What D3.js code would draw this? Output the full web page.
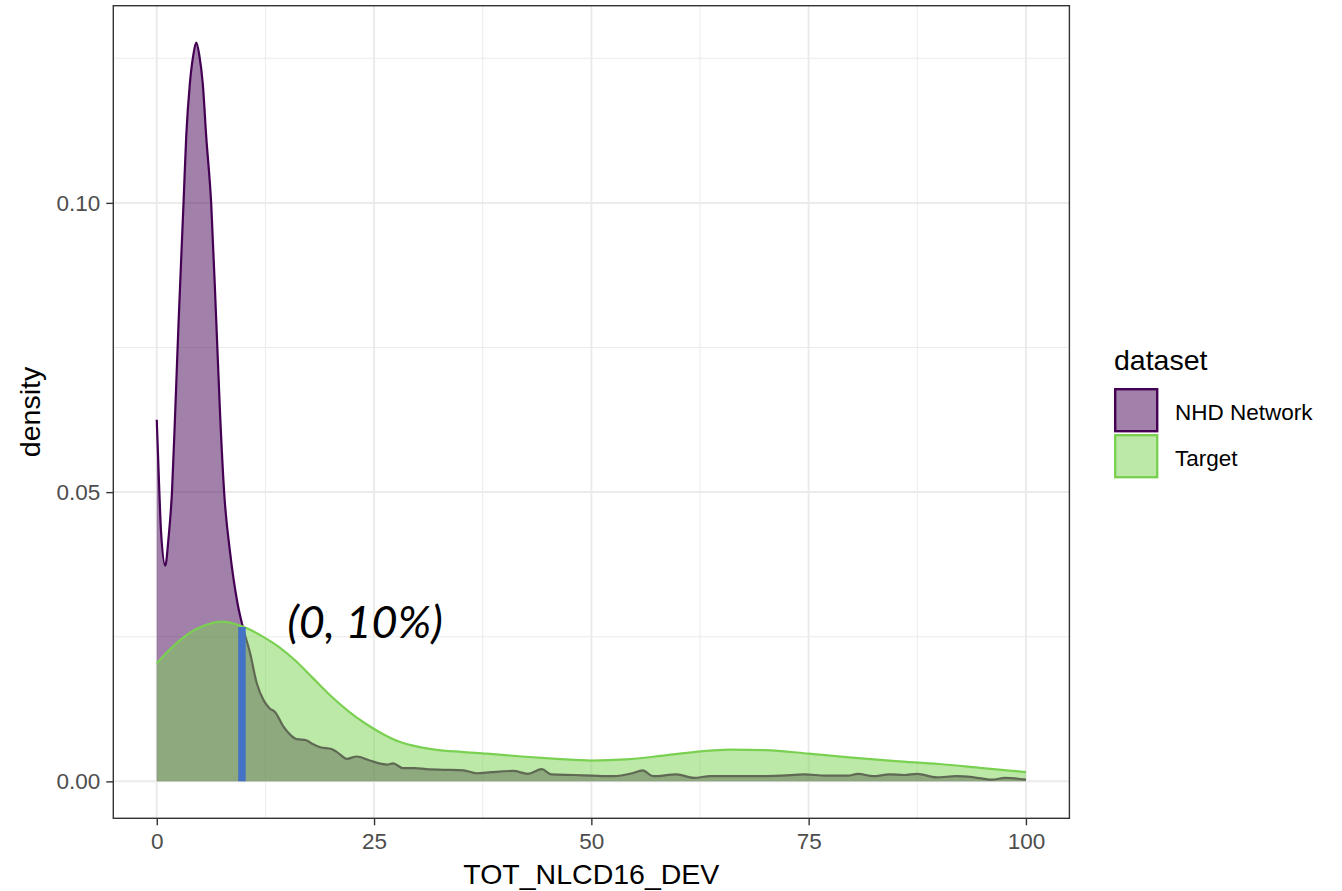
<!DOCTYPE html>
<html>
<head>
<meta charset="utf-8">
<script src="https://cdn.jsdelivr.net/npm/d3@7"></script>
<style>
  body { margin: 0; background: #fff; }
  svg { display: block; font-family: "Liberation Sans", Arial, sans-serif; }
</style>
</head>
<body>
<svg id="chart" width="1342" height="891"></svg>
<script>
// density curves: [x, density]
const nhdNetwork = [
    [0, 0.0625], [0.25, 0.052], [0.5, 0.043], [0.98, 0.0373], [1.35, 0.0420],
    [1.75, 0.0500], [2.1, 0.0630], [2.5, 0.0790], [3.08, 0.100], [3.39, 0.1115],
    [3.8, 0.1205], [4.2, 0.1255], [4.54, 0.1277], [4.9, 0.1255], [5.3, 0.1205],
    [5.69, 0.1115], [6.26, 0.100], [6.84, 0.0798], [7.3, 0.063], [7.76, 0.0498],
    [8.45, 0.0394], [9.29, 0.0308], [9.9, 0.0267], [10.75, 0.0221], [11.5, 0.0170],
    [12.3, 0.0140], [13.0, 0.0126], [13.6, 0.0120], [14.6, 0.0094], [15.4, 0.0080],
    [16.1, 0.0073], [17.2, 0.0071], [18.0, 0.0064], [18.8, 0.0059], [20.1, 0.0056],
    [20.7, 0.0051], [21.9, 0.0039], [23.0, 0.0043], [24.5, 0.0036], [26.5, 0.0029],
    [27.2, 0.0031], [28.3, 0.0023], [29.7, 0.0023], [31.0, 0.0021], [33, 0.0020],
    [35.3, 0.0019], [36.8, 0.0014], [38.5, 0.0016], [41, 0.0018], [42.7, 0.0013],
    [44.3, 0.0021], [45.4, 0.0012], [48, 0.0011], [50, 0.0010], [52.5, 0.0009],
    [54.7, 0.0014], [55.9, 0.0019], [57.1, 0.0009], [59.8, 0.0012], [61.8, 0.0006],
    [63.7, 0.0009], [67, 0.0009], [69.7, 0.0009], [72, 0.0010], [74.5, 0.0012],
    [77, 0.0010], [79.5, 0.0010], [80.7, 0.0013], [82.4, 0.0009], [84.3, 0.0012],
    [86, 0.0011], [87.5, 0.0013], [89.7, 0.0007], [92, 0.0009], [94, 0.0007],
    [96.1, 0.0003], [97.6, 0.0006], [100, 0.0003]
];

const target = [
    [0, 0.0204], [1.5, 0.0228], [3, 0.0248], [4.5, 0.0263], [6, 0.0272],
    [7.5, 0.0276], [9, 0.0272], [10.5, 0.0264], [12, 0.0252], [14, 0.0233],
    [16, 0.0208], [18, 0.0178], [20, 0.0148], [22, 0.0122], [24, 0.0100],
    [26, 0.0082], [28, 0.0068], [30, 0.0060], [32, 0.0055], [35, 0.0051],
    [38, 0.0048], [42, 0.0043], [46, 0.0039], [50, 0.0036], [54, 0.0038],
    [58, 0.0044], [62, 0.0051], [66, 0.0055], [70, 0.0054], [75, 0.0048],
    [80, 0.0041], [85, 0.0035], [90, 0.0030], [95, 0.0023], [100, 0.0016]
];

const datasets = ["NHD Network", "Target"];
const xTicks = [0, 25, 50, 75, 100];
const yTicks = [0, 0.05, 0.10];
const xMinor = [12.5, 37.5, 62.5, 87.5];
const yMinor = [0.025, 0.075, 0.125];

// highlighted cut and its label
const cutX = 9.8;
const cutTop = 0.0267;
const cutLabel = "(0, 10%)";

function drawDensity() {
    const svg = d3.select("#chart");

    // panel box
    const panel = { left: 113.3, right: 1069.4, top: 5.7, bottom: 818.3 };

    const x = d3.scaleLinear()
        .domain([-5, 105])
        .range([panel.left, panel.right]);

    const yMax = 0.1277;
    const y = d3.scaleLinear()
        .domain([-0.05 * yMax, 1.05 * yMax])
        .range([panel.bottom, panel.top]);

    const color = d3.scaleOrdinal()
        .domain(datasets)
        .range(["#440154", "#7AD151"]);

    const g = svg.append("g");

    // grid lines (theme_bw)
    g.selectAll(".xminor").data(xMinor).enter().append("line")
        .attr("x1", d => x(d)).attr("x2", d => x(d))
        .attr("y1", panel.top).attr("y2", panel.bottom)
        .attr("stroke", "#EBEBEB").attr("stroke-width", 1);
    g.selectAll(".yminor").data(yMinor).enter().append("line")
        .attr("y1", d => y(d)).attr("y2", d => y(d))
        .attr("x1", panel.left).attr("x2", panel.right)
        .attr("stroke", "#EBEBEB").attr("stroke-width", 1);
    g.selectAll(".xmajor").data(xTicks).enter().append("line")
        .attr("x1", d => x(d)).attr("x2", d => x(d))
        .attr("y1", panel.top).attr("y2", panel.bottom)
        .attr("stroke", "#EBEBEB").attr("stroke-width", 2);
    g.selectAll(".ymajor").data(yTicks).enter().append("line")
        .attr("y1", d => y(d)).attr("y2", d => y(d))
        .attr("x1", panel.left).attr("x2", panel.right)
        .attr("stroke", "#EBEBEB").attr("stroke-width", 2);

    const area = d3.area()
        .x(d => x(d[0]))
        .y0(y(0))
        .y1(d => y(d[1]))
        .curve(d3.curveMonotoneX);

    const line = d3.line()
        .x(d => x(d[0]))
        .y(d => y(d[1]))
        .curve(d3.curveMonotoneX);

    // NHD first, target on top
    [[nhdNetwork, "NHD Network"], [target, "Target"]].forEach(([data, name]) => {
        g.append("path")
            .datum(data)
            .attr("d", area)
            .attr("fill", color(name))
            .attr("fill-opacity", 0.5);
        g.append("path")
            .datum(data)
            .attr("d", line)
            .attr("fill", "none")
            .attr("stroke", color(name))
            .attr("stroke-width", 2.2);
    });

    // blue cut marker
    g.append("line")
        .attr("x1", x(cutX)).attr("x2", x(cutX))
        .attr("y1", y(0)).attr("y2", y(cutTop))
        .attr("stroke", "#4472C4")
        .attr("stroke-width", 7.5);

    g.append("text")
        .attr("x", x(15))
        .attr("y", y(0.0247))
        .attr("font-family", "Lato, 'Open Sans', sans-serif")
        .attr("font-style", "italic")
        .attr("font-size", "45px")
        .attr("fill", "#000")
        .text(cutLabel);

    // panel border
    g.append("rect")
        .attr("x", panel.left).attr("y", panel.top)
        .attr("width", panel.right - panel.left)
        .attr("height", panel.bottom - panel.top)
        .attr("fill", "none")
        .attr("stroke", "#333333")
        .attr("stroke-width", 1.4);

    // X-axis
    const xAxis = g.append("g")
        .attr("transform", `translate(0,${panel.bottom})`)
        .call(d3.axisBottom(x).tickValues(xTicks).tickSize(7).tickPadding(8).tickFormat(d3.format("d")));
    xAxis.select(".domain").remove();
    xAxis.selectAll("line").attr("stroke", "#333333").attr("stroke-width", 1.4);
    xAxis.selectAll("text")
        .attr("fill", "#4D4D4D")
        .attr("font-size", "22.5px")
        .attr("font-family", "'Liberation Sans', Arial, sans-serif");

    // Y-axis
    const yAxis = g.append("g")
        .attr("transform", `translate(${panel.left},0)`)
        .call(d3.axisLeft(y).tickValues(yTicks).tickSize(7).tickPadding(6).tickFormat(d3.format(".2f")));
    yAxis.select(".domain").remove();
    yAxis.selectAll("line").attr("stroke", "#333333").attr("stroke-width", 1.4);
    yAxis.selectAll("text")
        .attr("fill", "#4D4D4D")
        .attr("font-size", "22.5px")
        .attr("font-family", "'Liberation Sans', Arial, sans-serif");

    // axis titles
    svg.append("text")
        .attr("x", (panel.left + panel.right) / 2)
        .attr("y", 884)
        .attr("text-anchor", "middle")
        .attr("font-size", "28.5px")
        .text("TOT_NLCD16_DEV");

    svg.append("text")
        .attr("transform", `translate(40,${(panel.top + panel.bottom) / 2}) rotate(-90)`)
        .attr("text-anchor", "middle")
        .attr("font-size", "28.5px")
        .text("density");

    // legend
    const legend = svg.append("g").attr("transform", "translate(1114,0)");
    legend.append("text")
        .attr("x", 0).attr("y", 370)
        .attr("font-size", "28.5px")
        .text("dataset");

    const keys = legend.selectAll(".key")
        .data(datasets)
        .enter().append("g")
        .attr("transform", (d, i) => `translate(0,${388 + i * 46})`);
    keys.append("rect")
        .attr("x", 1.2).attr("y", 1.2)
        .attr("width", 42).attr("height", 42)
        .attr("fill", d => color(d))
        .attr("fill-opacity", 0.5)
        .attr("stroke", d => color(d))
        .attr("stroke-width", 2.4);
    keys.append("text")
        .attr("x", 61).attr("y", 32)
        .attr("font-size", "22.5px")
        .text(d => d);
}

drawDensity();
</script>
</body>
</html>
